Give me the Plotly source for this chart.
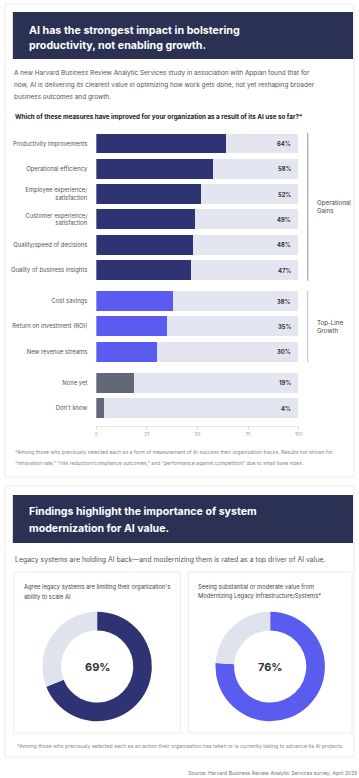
import plotly.graph_objects as go

W, H = 359, 778

# ---------------- data ----------------
categories = [
    "Productivity improvements",
    "Operational efficiency",
    "Employee experience/<br>satisfaction",
    "Customer experience/<br>satisfaction",
    "Quality/speed of decisions",
    "Quality of business insights",
    "Cost savings",
    "Return on investment (ROI)",
    "New revenue streams",
    "None yet",
    "Don't know",
]
values = [64, 58, 52, 49, 48, 47, 38, 35, 30, 19, 4]
group_index = [0, 0, 0, 0, 0, 0, 1, 1, 1, 2, 2]
group_names = ["Operational<br>Gains", "Top-Line<br>Growth"]
x_ticks = [0, 25, 50, 75, 100]

donut_titles = [
    ["Agree legacy systems are limiting their organization's", "ability to scale AI"],
    ["Seeing substantial or moderate value from", "Modernizing Legacy Infrastructure/Systems*"],
]
donut_values = [69, 76]

# ---------------- styles ----------------
NAVY = "#2b3152"
BAR_NAVY = "#2e3473"
BAR_BLUE = "#5a5cf0"
BAR_GRAY = "#626879"
TRACK = "#e3e6f0"
LIGHT = "#dfe3ee"
FONT = "Inter"
group_colors = [BAR_NAVY, BAR_BLUE, BAR_GRAY]


def px(x):
    return x / W


def py(y):
    return 1 - y / H


# row positions (in row units, with extra gap between groups)
GAP = 0.23
pos = [i + g * GAP for i, g in enumerate(group_index)]
ROW = 25.3          # pixels per row unit
TOP_CENTER = 143.5  # pixel y of first row centre
AX_TOP, AX_BOT = 128, 426
y_range = [(AX_BOT - TOP_CENTER) / ROW, (AX_TOP - TOP_CENTER) / ROW]

fig = go.Figure()

# tracks
fig.add_trace(go.Bar(
    x=[100] * len(values), y=pos, orientation="h", width=0.79,
    marker=dict(color=TRACK, line=dict(width=0)), hoverinfo="skip", showlegend=False,
))
# value bars per group
for g in range(3):
    idx = [i for i in range(len(values)) if group_index[i] == g]
    fig.add_trace(go.Bar(
        x=[values[i] for i in idx], y=[pos[i] for i in idx], orientation="h", width=0.79,
        marker=dict(color=group_colors[g], line=dict(width=0)),
        hoverinfo="skip", showlegend=False,
    ))

annotations = []
shapes = []


def text(x, y, s, size, color="#555", bold=False, xanchor="left", yanchor="middle", **kw):
    annotations.append(dict(
        x=x, y=y, xref=kw.pop("xref", "paper"), yref=kw.pop("yref", "paper"),
        text=s, showarrow=False, xanchor=xanchor, yanchor=yanchor, align=kw.pop("align", "left"),
        font=dict(family=FONT, size=size, color=color, weight="bold" if bold else "normal"),
        **kw,
    ))


# value labels
for p, v in zip(pos, values):
    text(97, p, f"{v}%", 5.8, color="#333", bold=True, xanchor="right", xref="x", yref="y")

# group brackets
bracket_colors = ["#a3a6b4", "#c4c5f3"]
for g in range(2):
    idx = [pos[i] for i in range(len(values)) if group_index[i] == g]
    y0, y1 = min(idx) - 0.42, max(idx) + 0.42
    shapes.append(dict(type="line", xref="paper", yref="y", x0=px(311), x1=px(311),
                       y0=y0, y1=y1, line=dict(color=bracket_colors[g], width=1.2)))
    text(px(318), (y0 + y1) / 2, group_names[g], 6.2, color="#444", yref="y")

# cards
shapes.append(dict(type="rect", xref="paper", yref="paper", x0=px(4), x1=px(358), y0=py(477), y1=py(4),
                   line=dict(color="#ececec", width=1), fillcolor="rgba(0,0,0,0)", layer="below"))
shapes.append(dict(type="rect", xref="paper", yref="paper", x0=px(4), x1=px(358), y0=py(757), y1=py(486),
                   line=dict(color="#ececec", width=1), fillcolor="rgba(0,0,0,0)", layer="below"))
# headers
shapes.append(dict(type="rect", xref="paper", yref="paper", x0=px(12), x1=px(357), y0=py(59), y1=py(12),
                   line=dict(width=0), fillcolor=NAVY, layer="below"))
shapes.append(dict(type="rect", xref="paper", yref="paper", x0=px(12), x1=px(357), y0=py(543), y1=py(495),
                   line=dict(width=0), fillcolor=NAVY, layer="below"))
# donut sub-cards
shapes.append(dict(type="rect", xref="paper", yref="paper", x0=px(13), x1=px(182), y0=py(733), y1=py(572),
                   line=dict(color="#ececec", width=1), fillcolor="rgba(0,0,0,0)", layer="below"))
shapes.append(dict(type="rect", xref="paper", yref="paper", x0=px(190), x1=px(356), y0=py(733), y1=py(572),
                   line=dict(color="#ececec", width=1), fillcolor="rgba(0,0,0,0)", layer="below"))

# header titles
text(px(26), py(30), "AI has the strongest impact in bolstering", 10.7, color="white", bold=True)
text(px(26), py(45.5), "productivity, not enabling growth.", 10.7, color="white", bold=True)
text(px(26), py(512), "Findings highlight the importance of system", 10.6, color="white", bold=True)
text(px(26), py(528), "modernization for AI value.", 10.6, color="white", bold=True)

# intro paragraph
intro = [
    "A new Harvard Business Review Analytic Services study in association with Appian found that for",
    "now, AI is delivering its clearest value in optimizing how work gets done, not yet reshaping broader",
    "business outcomes and growth.",
]
for i, line in enumerate(intro):
    text(px(11), py(72.5 + 12.3 * i), line, 6.45, color="#555")
text(px(12), py(116.5), "Which of these measures have improved for your organization as a result of its AI use so far?*",
     6.3, color="#222", bold=True)

# footnote 1
foot1 = [
    "*Among those who previously selected each as a form of measurement of AI success their organization tracks. Results not shown for",
    "\u201cinnovation rate,\u201d \u201crisk reduction/compliance outcomes,\u201d and \u201cperformance against competition\u201d due to small base sizes.",
]
for i, line in enumerate(foot1):
    text(px(12), py(451.5 + 11.5 * i), line, 5.05, color="#888")

# section 2 subtitle
text(px(12), py(559), "Legacy systems are holding AI back\u2014and modernizing them is rated as a top driver of AI value.",
     6.9, color="#555")

# donuts
centers = [(97.5, 666.5), (273, 666.5)]
R = 55.5
donut_colors = [BAR_NAVY, BAR_BLUE]
title_x = [21, 198]
for k in range(2):
    cx, cy = centers[k]
    fig.add_trace(go.Pie(
        values=[donut_values[k], 100 - donut_values[k]], hole=0.66, sort=False,
        direction="clockwise", rotation=0, textinfo="none", hoverinfo="skip", showlegend=False,
        marker=dict(colors=[donut_colors[k], LIGHT], line=dict(width=0)),
        domain=dict(x=[px(cx - R), px(cx + R)], y=[py(cy + R), py(cy - R)]),
    ))
    text(px(cx), py(cy), f"{donut_values[k]}%", 11, color="#333", bold=True, xanchor="center")
    for i, line in enumerate(donut_titles[k]):
        text(px(title_x[k]), py(587 + 9 * i), line, 5.8, color="#444")

text(px(14), py(746), "*Among those who previously selected each as an action their organization has taken or is currently taking to advance its AI projects.",
     5.2, color="#888")
text(px(188), py(773), "Source: Harvard Business Review Analytic Services survey, April 2025", 5.1, color="#777")

fig.update_layout(
    width=W, height=H, margin=dict(l=0, r=0, t=0, b=0),
    paper_bgcolor="white", plot_bgcolor="white",
    barmode="overlay", bargap=0,
    font=dict(family=FONT),
    xaxis=dict(domain=[px(96.7), px(302)], range=[0, 100], tickvals=x_ticks,
               ticktext=[str(t) for t in x_ticks], showgrid=False, zeroline=False,
               showline=True, linecolor="#e4e4e4", ticks="outside", ticklen=3, tickcolor="#dddddd",
               tickfont=dict(size=4.6, color="#999"), fixedrange=True),
    yaxis=dict(domain=[py(AX_BOT), py(AX_TOP)], range=y_range, tickvals=pos, ticktext=categories,
               showgrid=False, zeroline=False, showline=False, ticks="",
               ticklabelstandoff=8, tickfont=dict(size=5.9, color="#555"), fixedrange=True),
    annotations=annotations, shapes=shapes,
)

fig.write_html("out.html", config={"displayModeBar": False})
